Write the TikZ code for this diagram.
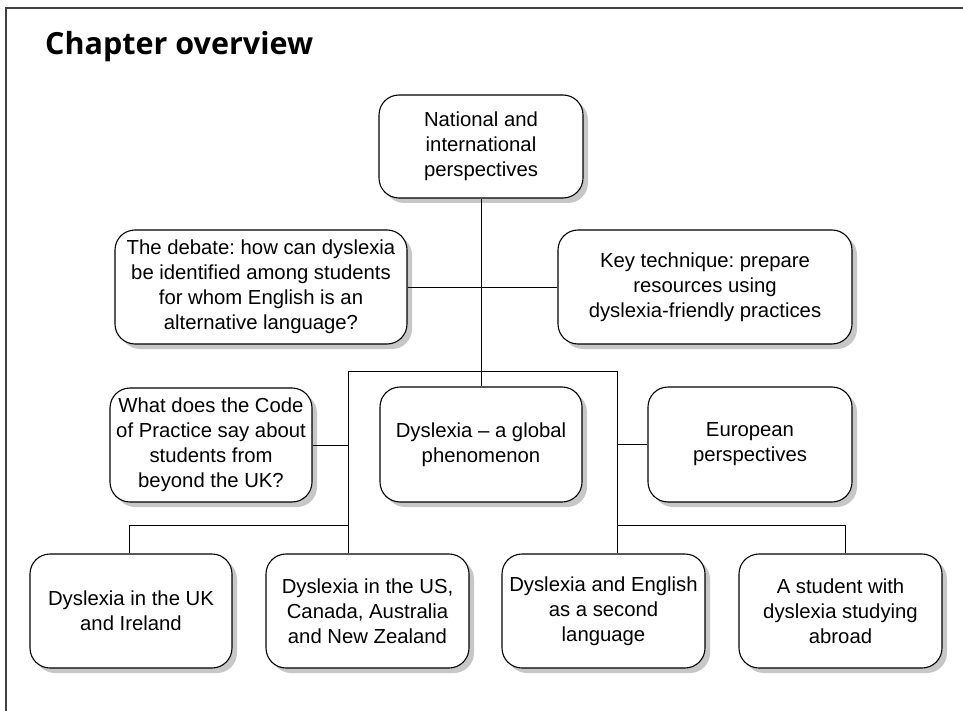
\documentclass[tikz,border=0pt]{standalone}
\usepackage{fontspec}
\setmainfont{Liberation Sans}
\newfontfamily\titlefont{Open Sans}
\usetikzlibrary{shadows}
\frenchspacing
\tikzset{
  topicbox/.style={draw, line width=1.1pt, fill=white, rounded corners=20pt,
    align=center, inner sep=0pt,
    drop shadow={shadow xshift=5pt, shadow yshift=-5pt, fill=black!22, opacity=1},
    font=\fontsize{20.3}{25}\selectfont},
  link/.style={line width=1pt}
}
\begin{document}
\begin{tikzpicture}[x=1pt,y=-1pt]
\useasboundingbox (0,0) rectangle (963,711);
% frame and heading
\draw[line width=2pt, black!75] (6,711) -- (6,8) -- (963,8);
\node[anchor=base west, inner sep=0pt, font=\titlefont\bfseries\fontsize{30.5}{36}\selectfont] (title) at (45,55) {Chapter overview};

% upper level
\node[topicbox, minimum width=204pt, minimum height=103pt] (natl) at (481,146.5) {National and\\international\\perspectives};
\node[topicbox, minimum width=292pt, minimum height=114pt] (debate) at (261,287) {The debate: how can dyslexia\\be identified among students\\for whom English is an\\alternative language?};
\node[topicbox, minimum width=294pt, minimum height=114pt] (technique) at (705,287) {Key technique: prepare\\resources using\\dyslexia-friendly practices};

% middle level
\node[topicbox, minimum width=202pt, minimum height=114pt] (code) at (211,445) {What does the Code\\of Practice say about\\students from\\beyond the UK?};
\node[topicbox, minimum width=202pt, minimum height=115pt] (global) at (481,444.5) {Dyslexia -- a global\\phenomenon};
\node[topicbox, minimum width=204pt, minimum height=115pt] (europe) at (750,444.5) {European\\perspectives};

% lower level
\node[topicbox, minimum width=202pt, minimum height=114pt] (ukire) at (131,611) {Dyslexia in the UK\\and Ireland};
\node[topicbox, minimum width=203pt, minimum height=114pt] (uscan) at (367.5,611) {Dyslexia in the US,\\Canada, Australia\\and New Zealand};
\node[topicbox, minimum width=203pt, minimum height=114pt] (esl) at (603.5,611) {Dyslexia and English\\as a second\\language};
\node[topicbox, minimum width=203pt, minimum height=114pt] (abroad) at (840.5,611) {A student with\\dyslexia studying\\abroad};

% connectors
\coordinate (barL) at (348,371);
\coordinate (barR) at (617,371);
\coordinate (lowL) at (129,525);
\coordinate (lowR) at (845,525);
\begin{scope}[on background layer/.try]
\draw[link] (natl.south) -- (global.north);
\draw[link] (debate.east) -- (debate.east -| natl.south);
\draw[link] (technique.west) -- (technique.west -| natl.south);
\draw[link] (barL |- uscan.north) -- (barL) -- (barR) -- (barR |- esl.north);
\draw[link] (code.east) -- (code.east -| barL);
\draw[link] (europe.west) -- (europe.west -| barR);
\draw[link] (lowL |- ukire.north) -- (lowL) -- (lowL -| barL);
\draw[link] (lowR |- abroad.north) -- (lowR) -- (lowR -| barR);
\end{scope}
\end{tikzpicture}
\end{document}
